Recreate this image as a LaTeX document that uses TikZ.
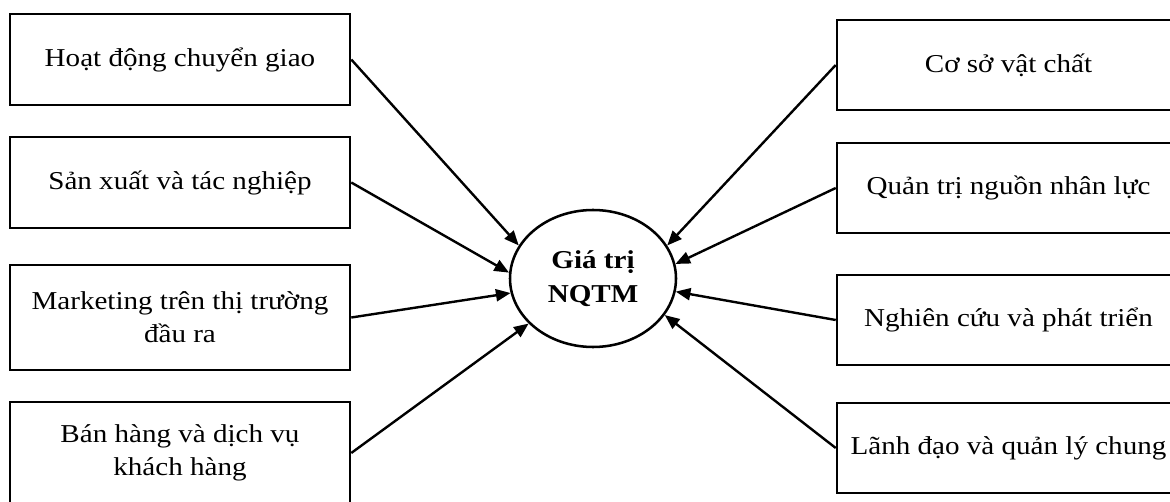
\documentclass[tikz,border=0pt]{standalone}
\usepackage{fontspec}
\setmainfont{Liberation Serif}[FakeStretch=1.13]
\usetikzlibrary{shapes.geometric,arrows.meta}
\tikzset{
  box/.style={draw=black, line width=1.9pt, rectangle, inner sep=0pt, align=center,
    font=\fontsize{19.3}{24.75}\selectfont},
  lbox/.style={box, minimum width=255pt},
  rbox/.style={box, minimum width=257.25pt},
  hub/.style={draw=black, line width=1.9pt, ellipse, inner sep=0pt, align=center,
    minimum width=124.5pt, minimum height=102.75pt,
    font=\fontsize{19.3}{26}\selectfont\bfseries},
  link/.style={line width=1.8pt, -{Triangle[length=11pt,width=9pt]}}
}
\begin{document}
\begin{tikzpicture}[x=0.75pt,y=-0.75pt]
\useasboundingbox (0,0) rectangle (1170,502);
\clip (0,0) rectangle (1170,502);
\fill[white] (0,0) rectangle (1170,502);
% left boxes
\node[lbox, minimum height=68.25pt] (l1) at (180,59.5) {Hoạt động chuyển giao};
\node[lbox, minimum height=68.25pt] (l2) at (180,182.5) {Sản xuất và tác nghiệp};
\node[lbox, minimum height=78.75pt] (l3) at (180,317.5) {Marketing trên thị trường\\đầu ra};
\node[lbox, minimum height=76.5pt] (l4) at (180,453) {Bán hàng và dịch vụ\\khách hàng};
% right boxes
\node[rbox, minimum height=67.5pt] (r1) at (1008.5,65) {Cơ sở vật chất};
\node[rbox, minimum height=67.5pt] (r2) at (1008.5,188) {Quản trị nguồn nhân lực};
\node[rbox, minimum height=67.5pt] (r3) at (1008.5,320) {Nghiên cứu và phát triển};
\node[rbox, minimum height=67.5pt] (r4) at (1008.5,448) {Lãnh đạo và quản lý chung};
% centre
\node[hub] (c) at (593,278.5) {Giá trị\\NQTM};
% connectors
\draw[link] (l1.east) -- (c.156);
\draw[link] (l2.east) -- (c.176);
\draw[link] (l3.east) -- (c.190);
\draw[link] (l4.east) -- (c.215.6);
\draw[link] (r1.west) -- (c.24);
\draw[link] (r2.west) -- (c.10.5);
\draw[link] (r3.west) -- (c.-9.8);
\draw[link] (r4.west) -- (c.-27);
\end{tikzpicture}
\end{document}
